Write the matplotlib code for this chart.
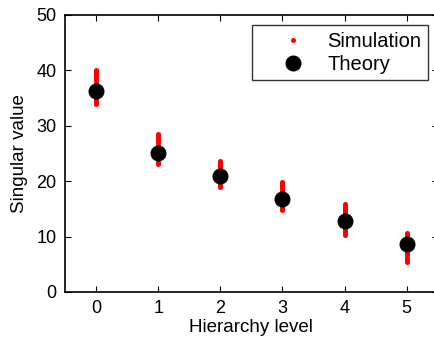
import matplotlib

matplotlib.use("Agg")

import matplotlib.pyplot as plt

plt.rcParams["font.family"] = ["Liberation Sans", "DejaVu Sans"]

# hierarchy levels and the theoretical singular values
levels = [0, 1, 2, 3, 4, 5]
theory = [36.3, 25.1, 20.9, 16.8, 12.9, 8.6]

# simulated singular values per level
sim_0 = [34.0, 34.2, 34.4, 34.6, 34.8, 35.0, 35.2, 35.5, 35.8, 36.1, 36.4, 36.7, 37.0, 37.4, 37.8, 38.2, 38.5, 38.8, 39.1, 39.4, 39.7, 39.9, 40.1]
sim_1 = [23.1, 23.3, 23.5, 23.7, 23.9, 24.3, 24.6, 24.9, 25.2, 25.5, 25.8, 26.2, 26.6, 27.0, 27.3, 27.5, 27.8, 28.0, 28.3, 28.5]
sim_2 = [18.9, 19.1, 19.3, 19.5, 19.7, 20.1, 20.4, 20.7, 21.0, 21.3, 21.6, 22.0, 22.4, 22.6, 22.8, 23.0, 23.2, 23.4, 23.6]
sim_3 = [14.8, 15.0, 15.2, 15.4, 15.6, 16.0, 16.3, 16.6, 16.9, 17.2, 17.5, 17.9, 18.3, 18.5, 18.7, 18.9, 19.1, 19.3, 19.5, 19.7, 19.9]
sim_4 = [10.2, 10.4, 10.6, 10.8, 11.0, 11.4, 11.8, 12.2, 12.5, 12.8, 13.1, 13.5, 13.9, 14.3, 14.5, 14.7, 14.9, 15.1, 15.3, 15.5, 15.7, 15.8]
sim_5 = [5.4, 5.6, 5.8, 6.0, 6.2, 6.6, 7.0, 7.4, 7.8, 8.1, 8.4, 8.7, 9.0, 9.4, 9.8, 10.0, 10.2, 10.4, 10.6]
sims = [sim_0, sim_1, sim_2, sim_3, sim_4, sim_5]

fig = plt.figure(figsize=(4.35, 3.42), dpi=100)
ax = fig.add_axes([65 / 435, 1 - 292 / 342, 372.7 / 435, 277 / 342])

for i, (lvl, vals) in enumerate(zip(levels, sims)):
    ax.plot(
        [lvl] * len(vals), vals, linestyle="none", marker="o",
        color="red", markersize=3.6, markeredgewidth=0,
        label="Simulation" if i == 0 else None,
    )
ax.plot(
    levels, theory, linestyle="none", marker="o", color="black",
    markersize=10.5, label="Theory",
)

ax.set_xlim(-0.5, 5.5)
ax.set_ylim(0, 50)
ax.set_xticks(levels)
ax.set_yticks([0, 10, 20, 30, 40, 50])
ax.tick_params(direction="in", top=True, right=True, labelsize=13, length=4, pad=6)
for s in ax.spines.values():
    s.set_linewidth(1.2)
ax.set_xlabel("Hierarchy level", fontsize=13.5, labelpad=1)
ax.set_ylabel("Singular value", fontsize=13.5, labelpad=6)

leg = ax.legend(
    loc="upper left", bbox_to_anchor=(187 / 372.7, 1 - 10 / 277),
    borderaxespad=0, fontsize=14.5, frameon=True, fancybox=False,
    edgecolor="black", handletextpad=0.0, borderpad=0.33,
    labelspacing=0.2, handlelength=3.4,
)
leg.get_frame().set_linewidth(1.0)

fig.savefig("out.png", dpi=100)
